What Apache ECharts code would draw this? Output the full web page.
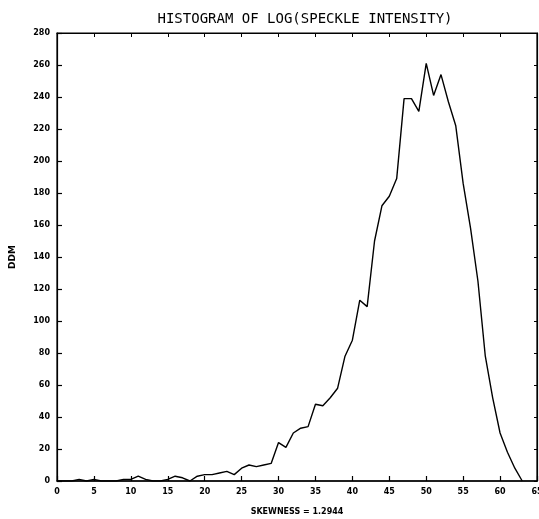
<!DOCTYPE html>
<html>
<head>
<meta charset="utf-8">
<script src="https://cdn.jsdelivr.net/npm/echarts@6/dist/echarts.min.js"></script>
<style>html,body{margin:0;padding:0;background:#fff}#c{width:539px;height:519px}</style>
</head>
<body>
<div id="c"></div>
<script>
const titleText = "HISTOGRAM OF LOG(SPECKLE INTENSITY)";
const xName = "SKEWNESS = 1.2944";
const yName = "DDM";
const xValues = [0,1,2,3,4,5,6,7,8,9,10,11,12,13,14,15,16,17,18,19,20,21,22,23,24,25,26,27,28,29,30,31,32,33,34,35,36,37,38,39,40,41,42,43,44,45,46,47,48,49,50,51,52,53,54,55,56,57,58,59,60,61,62,63];
const counts = [0,0,0,1,0,1,0,0,0,1,1,3,1,0,0,1,3,2,0,3,4,4,5,6,4,8,10,9,10,11,24,21,30,33,34,48,47,52,58,78,88,113,109,150,172,178,189,239,239,231,261,241,254,237,222,186,158,125,78,52,30,18,8,0];
const xTicks = [0,5,10,15,20,25,30,35,40,45,50,55,60,65];
const yTicks = [0,20,40,60,80,100,120,140,160,180,200,220,240,260,280];

const labelFont = {fontFamily: "DejaVu Sans", fontWeight: "bold", fontSize: 8, color: "#000"};
const pts = xValues.map((x, i) => [x, counts[i]]);
const chart = echarts.init(document.getElementById('c'), null, {renderer: 'canvas'});
chart.setOption({
  animation: false,
  backgroundColor: '#fff',
  title: {
    text: titleText, left: 300, textAlign: 'center', top: 7,
    textStyle: {fontFamily: "DejaVu Sans Mono", fontWeight: 'normal', fontSize: 14, color: '#000'}
  },
  grid: {left: 57, right: 2, top: 33, bottom: 38, outerBoundsMode: 'none', containLabel: false,
         show: true, borderColor: '#000', borderWidth: 1.2, backgroundColor: 'transparent'},
  xAxis: [{
    type: 'value', min: 0, max: 65, interval: 5,
    name: xName, nameLocation: 'middle', nameGap: 27,
    nameTextStyle: Object.assign({}, labelFont),
    axisLine: {show: true, onZero: false, lineStyle: {color: '#000', width: 1.5}},
    axisTick: {show: true, inside: true, length: 5, lineStyle: {color: '#000', width: 1.2}},
    axisLabel: Object.assign({margin: 7, formatter: v => xTicks.includes(v) ? String(v) : ''}, labelFont),
    splitLine: {show: false}
  }, {
    type: 'value', min: 0, max: 65, interval: 5, position: 'top',
    axisLine: {show: true, onZero: false, lineStyle: {color: '#000', width: 1.2}},
    axisTick: {show: true, inside: true, length: 4, lineStyle: {color: '#000'}},
    axisLabel: {show: false}, splitLine: {show: false}
  }],
  yAxis: [{
    type: 'value', min: 0, max: 280, interval: 20,
    name: yName, nameLocation: 'middle', nameGap: 40, nameRotate: 90,
    nameTextStyle: Object.assign({}, labelFont, {fontSize: 9}),
    axisLine: {show: true, onZero: false, lineStyle: {color: '#000', width: 1.2}},
    axisTick: {show: true, inside: true, length: 5, lineStyle: {color: '#000', width: 1.2}},
    axisLabel: Object.assign({margin: 7, formatter: v => yTicks.includes(v) ? String(v) : ''}, labelFont),
    splitLine: {show: false}
  }, {
    type: 'value', min: 0, max: 280, interval: 20, position: 'right',
    axisLine: {show: true, onZero: false, lineStyle: {color: '#000', width: 1.2}},
    axisTick: {show: true, inside: true, length: 3, lineStyle: {color: '#000'}},
    axisLabel: {show: false}, splitLine: {show: false}
  }],
  series: [{
    type: 'line',
    data: pts,
    showSymbol: false, symbol: 'none',
    lineStyle: {color: '#000', width: 1.4},
    z: 3
  }, {
    type: 'line', xAxisIndex: 1, yAxisIndex: 1, data: pts, silent: true,
    showSymbol: false, symbol: 'none', lineStyle: {opacity: 0}
  }]
});
</script>
</body>
</html>
